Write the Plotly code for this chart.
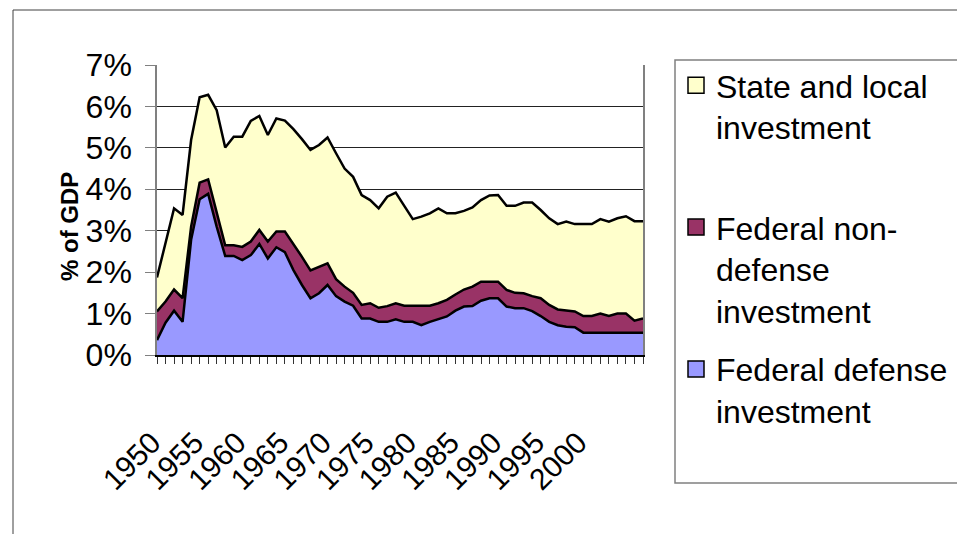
import plotly.graph_objects as go

years = list(range(1950, 2008))

defense = [0.36, 0.78, 1.07, 0.80, 2.78, 3.76, 3.89, 3.10, 2.39, 2.39,
           2.29, 2.41, 2.68, 2.33, 2.60, 2.48, 2.05, 1.69, 1.37, 1.49,
           1.69, 1.42, 1.29, 1.19, 0.88, 0.88, 0.80, 0.80, 0.86, 0.80,
           0.80, 0.72, 0.80, 0.86, 0.93, 1.07, 1.17, 1.18, 1.31, 1.37,
           1.37, 1.17, 1.13, 1.13, 1.06, 0.94, 0.80, 0.72, 0.68, 0.67,
           0.54, 0.54, 0.54, 0.54, 0.54, 0.54, 0.54, 0.54]

nondefense = [0.69, 0.51, 0.51, 0.57, 0.32, 0.40, 0.35, 0.32, 0.26, 0.26,
              0.32, 0.33, 0.34, 0.41, 0.38, 0.50, 0.63, 0.68, 0.67, 0.64,
              0.52, 0.41, 0.36, 0.31, 0.33, 0.37, 0.34, 0.38, 0.39, 0.39,
              0.39, 0.47, 0.39, 0.39, 0.40, 0.39, 0.41, 0.47, 0.46, 0.40,
              0.40, 0.40, 0.37, 0.36, 0.36, 0.43, 0.41, 0.38, 0.39, 0.38,
              0.40, 0.40, 0.46, 0.40, 0.46, 0.46, 0.29, 0.34]

state_local = [0.82, 1.41, 1.96, 2.01, 2.09, 2.06, 2.04, 2.49, 2.36, 2.62,
               2.66, 2.91, 2.75, 2.57, 2.73, 2.68, 2.77, 2.84, 2.91, 2.94,
               3.04, 3.04, 2.85, 2.80, 2.65, 2.49, 2.40, 2.64, 2.67, 2.41,
               2.09, 2.15, 2.23, 2.29, 2.09, 1.96, 1.90, 1.91, 1.97, 2.08,
               2.09, 2.03, 2.10, 2.19, 2.26, 2.13, 2.09, 2.06, 2.15, 2.11,
               2.22, 2.22, 2.28, 2.28, 2.30, 2.35, 2.40, 2.35]

series_names = ["Federal defense<br>investment",
                "Federal non-<br>defense<br>investment",
                "State and local<br>investment<br>\u00a0"]
series_colors = ["#9999FF", "#993366", "#FFFFCC"]

x_tick_labels = [str(y) if (y % 5 == 0 and y <= 2000) else "" for y in years]
y_tick_vals = [0, 1, 2, 3, 4, 5, 6, 7]
y_tick_labels = ["0%", "1%", "2%", "3%", "4%", "5%", "6%", "7%"]
y_title = "<b>% of GDP</b>"

FONT = "Arial, 'Liberation Sans', sans-serif"

fig = go.Figure()
for vals, col in zip([defense, nondefense, state_local], series_colors):
    fig.add_trace(go.Scatter(x=years, y=vals, stackgroup="one", mode="lines",
                             line=dict(color="black", width=2.5),
                             fillcolor=col, showlegend=False))

# legend entries (top to bottom: state, nondefense, defense)
for i, (name, col) in enumerate(reversed(list(zip(series_names, series_colors)))):
    fig.add_trace(go.Scatter(x=[None], y=[None], mode="markers", name=name,
                             legendgroup="g%d" % i,
                             marker=dict(symbol="square", size=18, color=col,
                                         line=dict(color="black", width=1.5))))

L, R, T, B = 157, 643, 65, 355
W, H = 957, 534


def px(x):
    return (x - L) / (R - L)


def py(y):
    return (B - y) / (B - T)


fig.update_layout(
    width=W, height=H,
    margin=dict(l=L, r=W - R, t=T, b=H - B, autoexpand=False),
    paper_bgcolor="white", plot_bgcolor="white",
    font=dict(family=FONT, color="black"),
    showlegend=True,
    legend=dict(xref="container", yref="container",
                x=676 / W, y=1 - 58 / H, xanchor="left", yanchor="top",
                font=dict(size=32, family=FONT), valign="top",
                tracegroupgap=14, itemsizing="trace", maxheight=520,
                bgcolor="rgba(0,0,0,0)", borderwidth=0),
    xaxis=dict(range=[1950, 2007], tickmode="array", tickvals=years,
               ticktext=x_tick_labels, tickangle=-45,
               tickfont=dict(size=30, family=FONT),
               ticks="outside", ticklen=7, tickcolor="#333", tickwidth=1,
               showgrid=False, zeroline=False, automargin=False,
               showline=True, linecolor="black", linewidth=2,
               ticklabelstandoff=49, ticklabelshift=-5),
    yaxis=dict(range=[0, 7], tickmode="array", tickvals=y_tick_vals,
               ticktext=y_tick_labels, tickfont=dict(size=32, family=FONT),
               ticks="outside", ticklen=10, tickcolor="#808080",
               showgrid=True, gridcolor="#222", gridwidth=1,
               zeroline=False, showline=True, linecolor="#808080",
               linewidth=1.5, mirror=True, ticklabelstandoff=7,
               automargin=False),
    annotations=[
        dict(text=y_title, xref="paper", yref="paper", x=px(69), y=py(227),
             textangle=-90, showarrow=False, xanchor="center",
             yanchor="middle", font=dict(size=24, family=FONT)),
    ],
    shapes=[
        dict(type="rect", xref="paper", yref="paper",
             x0=px(13), x1=px(980), y0=py(560), y1=py(10),
             line=dict(color="#404040", width=1), layer="below"),
        dict(type="rect", xref="paper", yref="paper",
             x0=px(675), x1=px(980), y0=py(483), y1=py(60),
             line=dict(color="#808080", width=1.5), layer="below"),
    ],
)

fig.write_html("out.html", config={"displayModeBar": False},
               post_script="document.body.style.margin='0';"
                           "document.body.style.overflow='hidden';")
